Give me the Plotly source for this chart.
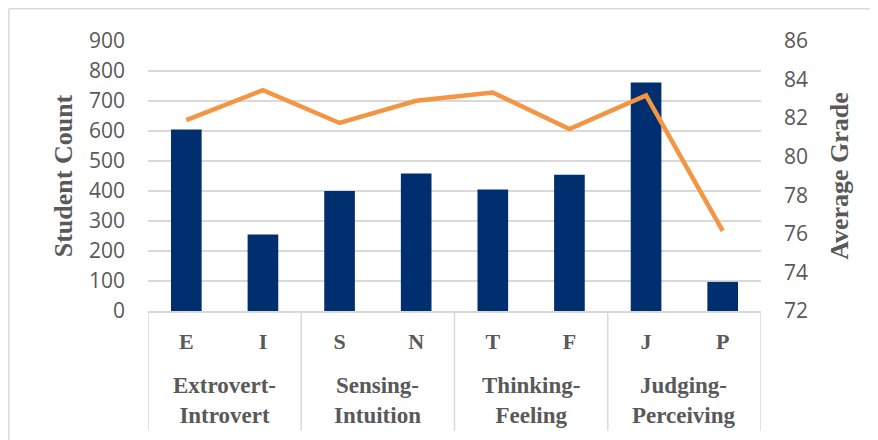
import plotly.graph_objects as go

categories = ["E", "I", "S", "N", "T", "F", "J", "P"]
groups = ["Extrovert-<br>Introvert", "Sensing-<br>Intuition", "Thinking-<br>Feeling", "Judging-<br>Perceiving"]
student_count = [605, 255, 400, 458, 405, 454, 762, 97]
average_grade = [81.9, 83.45, 81.75, 82.9, 83.33, 81.44, 83.18, 76.16]
left_ticks = [0, 100, 200, 300, 400, 500, 600, 700, 800, 900]
right_ticks = [72, 74, 76, 78, 80, 82, 84, 86]

xs = list(range(len(categories)))

NAVY = "#002F6F"
ORANGE = "#F39543"
GRID = "#D9D9D9"
TXT = "#595959"
SERIF = "Liberation Serif, Times New Roman, serif"
SANS = "Open Sans, sans-serif"

fig = go.Figure()
fig.add_trace(go.Bar(x=xs, y=student_count, marker=dict(color=NAVY, line=dict(width=0)),
                     width=0.4, name="Student Count", yaxis="y"))
fig.add_trace(go.Scatter(x=xs, y=average_grade, mode="lines", line=dict(color=ORANGE, width=4.5),
                         name="Average Grade", yaxis="y2"))

shapes = []
# group separators below axis
for b in [-0.5, 1.5, 3.5, 5.5, 7.5]:
    shapes.append(dict(type="line", xref="x", yref="paper", x0=b, x1=b, y0=0, y1=-0.443,
                       line=dict(color=GRID, width=1.5)))
# outer chart border (left and top edges)
shapes.append(dict(type="line", xref="paper", yref="paper", x0=-0.227, x1=-0.227, y0=1.1196, y1=-0.6,
                   line=dict(color=GRID, width=1.5), layer="below"))
shapes.append(dict(type="line", xref="paper", yref="paper", x0=-0.227, x1=1.3, y0=1.1196, y1=1.1196,
                   line=dict(color=GRID, width=1.5), layer="below"))

annotations = []
for i, g in enumerate(groups):
    annotations.append(dict(x=2 * i + 0.5, y=0, xref="x", yref="paper", text=g, showarrow=False,
                            yanchor="top", yshift=-60, align="center",
                            font=dict(family=SERIF, size=23, color=TXT, weight="bold")))

fig.update_layout(
    width=870, height=432,
    margin=dict(l=140, r=117, t=33, b=129),
    paper_bgcolor="white", plot_bgcolor="white",
    showlegend=False,
    bargap=0.6,
    xaxis=dict(range=[-0.5, 7.5], tickmode="array", tickvals=xs, ticktext=categories,
               tickfont=dict(family=SERIF, size=22, color=TXT, weight="bold"),
               showgrid=False, zeroline=False, showline=True, linecolor=GRID, linewidth=1.5,
               ticks="", ticklabelstandoff=10, fixedrange=True),
    yaxis=dict(range=[0, 900], tickmode="array", tickvals=left_ticks,
               tickfont=dict(family=SANS, size=21, color=TXT),
               showgrid=True, gridcolor=GRID, gridwidth=1.5, zeroline=False, showline=False,
               ticklabelstandoff=22,
               title=dict(text="Student Count", font=dict(family=SERIF, size=26, color=TXT, weight="bold"),
                          standoff=8)),
    yaxis2=dict(range=[72, 86], tickmode="array", tickvals=right_ticks, overlaying="y", side="right",
                tickfont=dict(family=SANS, size=21, color=TXT),
                showgrid=False, zeroline=False, showline=False, ticklabelstandoff=22,
                title=dict(text="Average Grade", font=dict(family=SERIF, size=26, color=TXT, weight="bold"),
                           standoff=22)),
    shapes=shapes,
    annotations=annotations,
)

fig.write_html("out.html")
